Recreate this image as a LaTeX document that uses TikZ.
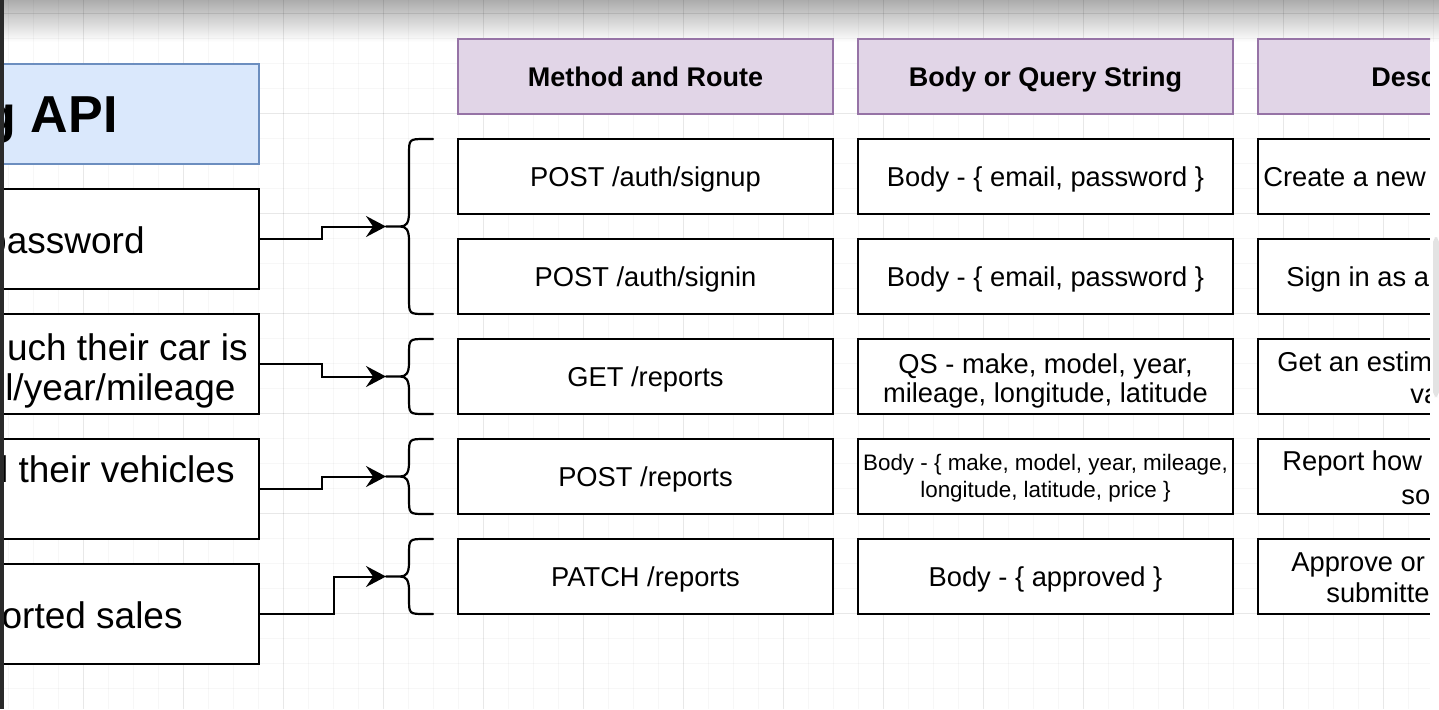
\documentclass[tikz,border=0pt]{standalone}
\usepackage{fontspec}
\setmainfont{Liberation Sans}
\usetikzlibrary{arrows.meta}
\definecolor{hdrfill}{HTML}{E1D5E7}
\definecolor{hdrline}{HTML}{9673A6}
\definecolor{ttlfill}{HTML}{DAE8FC}
\definecolor{ttlline}{HTML}{6C8EBF}
\definecolor{stripcol}{HTML}{2A2A2A}
\definecolor{scrollcol}{HTML}{E3E3E3}
\newcommand\bodyfnt{\fontsize{13.65pt}{16pt}\selectfont}
\newcommand\smallfnt{\fontsize{11.2pt}{13pt}\selectfont}
\newcommand\leftfnt{\fontsize{18.5pt}{22pt}\selectfont}
\newcommand\hdrfnt{\fontsize{13.5pt}{16pt}\selectfont\bfseries}
\newcommand\ttlfnt{\fontsize{26pt}{30pt}\selectfont\bfseries}
\tikzset{
  cell/.style={draw=black, line width=1.2pt, fill=white, minimum width=187.5pt, minimum height=37.5pt, inner sep=0pt},
  headcell/.style={cell, draw=hdrline, fill=hdrfill},
  lbox/.style={draw=black, line width=1.2pt, fill=white, minimum width=200pt, minimum height=50pt, inner sep=0pt},
  ttlbox/.style={lbox, line width=1pt, draw=ttlline, fill=ttlfill},
  txt/.style={inner sep=0pt, font=\bodyfnt, text=black},
  stxt/.style={inner sep=0pt, font=\smallfnt, text=black},
  ltxt/.style={inner sep=0pt, font=\leftfnt, text=black, anchor=base east},
  htxt/.style={inner sep=0pt, font=\hdrfnt, text=black},
  conn/.style={line width=1pt, -{Stealth[length=10pt,width=10.5pt,inset=3.5pt]}},
  bracepath/.style={line width=1.1pt, line cap=round, line join=round},
  minorgrid/.style={black, opacity=0.03, line width=0.5pt},
  majorgrid/.style={black, opacity=0.06, line width=0.5pt}
}
\begin{document}
\begin{tikzpicture}[x=0.5pt,y=-0.5pt]
\useasboundingbox (0,0) rectangle (1439,709);
\fill[white] (0,0) rectangle (1439,709);
\shade[top color={rgb,255:red,172;green,172;blue,172}, middle color={rgb,255:red,218;green,218;blue,218}, bottom color=white] (0,0) rectangle (1439,42);
% grid
\foreach \i in {0,...,57} \draw[minorgrid] ({8.33+25*\i},0) -- ({8.33+25*\i},709);
\foreach \i in {0,...,28} \draw[minorgrid] (0,{13.33+25*\i}) -- (1439,{13.33+25*\i});
\foreach \i in {0,...,14} \draw[majorgrid] ({83.33+100*\i},0) -- ({83.33+100*\i},709);
\foreach \i in {0,...,7} \draw[majorgrid] (0,{13.33+100*\i}) -- (1439,{13.33+100*\i});
\begin{scope}
\clip (0,0) rectangle (1430,709);
% title and left boxes
\node[ttlbox] (title) at (59,114) {};
\node[inner sep=0pt, font=\ttlfnt, anchor=base east] (titletxt) at (118,132) {g API};
\node[lbox] (L1) at (59,239) {};
\node[lbox] (L2) at (59,364) {};
\node[lbox] (L3) at (59,489) {};
\node[lbox] (L4) at (59,614) {};
\node[ltxt] (l1a) at (145,253) {password};
\node[ltxt] (l2a) at (248,360) {uch their car is};
\node[ltxt] (l2b) at (236,400) {l/year/mileage};
\node[ltxt] (l3a) at (235,482) {l their vehicles};
\node[ltxt] (l4a) at (183,628) {orted sales};
% table
\node[headcell] (h1) at (645.5,76.5) {};
\node[headcell] (h2) at (1045.5,76.5) {};
\node[headcell] (h3) at (1445.5,76.5) {};
\node[htxt, anchor=base] (h1t) at (645.5,86) {Method and Route};
\node[htxt, anchor=base] (h2t) at (1045.5,86) {Body or Query String};
\node[htxt, anchor=base west] (h3t) at (1371,86) {Desc};
\foreach \r/\y in {1/176.5,2/276.5,3/376.5,4/476.5,5/576.5}
  \foreach \c/\x in {1/645.5,2/1045.5,3/1445.5}
    \node[cell] (c\r\c) at (\x,\y) {};
% column 1
\node[txt, anchor=base] (m1) at (645.5,186.5) {POST /auth/signup};
\node[txt, anchor=base] (m2) at (645.5,286.5) {POST /auth/signin};
\node[txt, anchor=base] (m3) at (645.5,386.5) {GET /reports};
\node[txt, anchor=base] (m4) at (645.5,486.5) {POST /reports};
\node[txt, anchor=base] (m5) at (645.5,586.5) {PATCH /reports};
% column 2
\node[txt, anchor=base] (b1) at (1045.5,186.5) {Body - \{ email, password \}};
\node[txt, anchor=base] (b2) at (1045.5,286.5) {Body - \{ email, password \}};
\node[txt, anchor=base] (b3a) at (1045.5,373) {QS - make, model, year,};
\node[txt, anchor=base] (b3b) at (1045.5,402) {mileage, longitude, latitude};
\node[stxt, anchor=base] (b4a) at (1045.5,470) {Body - \{ make, model, year, mileage,};
\node[stxt, anchor=base] (b4b) at (1045.5,497) {longitude, latitude, price \}};
\node[txt, anchor=base] (b5) at (1045.5,586.5) {Body - \{ approved \}};
% column 3
\node[txt, anchor=base west] (d1) at (1263,186.5) {Create a new};
\node[txt, anchor=base west] (d2) at (1286,286.5) {Sign in as a};
\node[txt, anchor=base west] (d3a) at (1277,371) {Get an estim};
\node[txt, anchor=base west] (d3b) at (1410,403) {va};
\node[txt, anchor=base west] (d4a) at (1282,470) {Report how m};
\node[txt, anchor=base west] (d4b) at (1401,504) {so};
\node[txt, anchor=base west] (d5a) at (1291,571) {Approve or};
\node[txt, anchor=base west] (d5b) at (1326,602) {submitte};
% braces
\foreach \n/\t/\b in {1/139/314,2/339/414,3/439/514,4/539/614}{
  \pgfmathsetmacro\m{(\t+\b)/2}
  \coordinate (tip\n) at (386,\m);
  \draw[bracepath] (433,\t) -- (425,\t) .. controls (409,\t) .. (409,\t+16) -- (409,\m-14) .. controls (409,\m-3) and (406,\m) .. (400,\m) -- (tip\n)
    (400,\m) .. controls (406,\m) and (409,\m+3) .. (409,\m+14) -- (409,\b-16) .. controls (409,\b) .. (425,\b) -- (433,\b);
}
% connectors
\draw[conn] (L1.east) -- ++(62,0) |- (tip1);
\draw[conn] (L2.east) -- ++(62,0) |- (tip2);
\draw[conn] (L3.east) -- ++(62,0) |- (tip3);
\draw[conn] (L4.east) -- ++(74,0) |- (tip4);
\end{scope}
% right edge and scrollbar
\fill[white] (1430,42) rectangle (1439,709);
\fill[scrollcol, rounded corners=2.5pt] (1433,237) rectangle (1439,397);
% left dark strip
\fill[stripcol] (0,0) rectangle (4,709);
\end{tikzpicture}
\end{document}
